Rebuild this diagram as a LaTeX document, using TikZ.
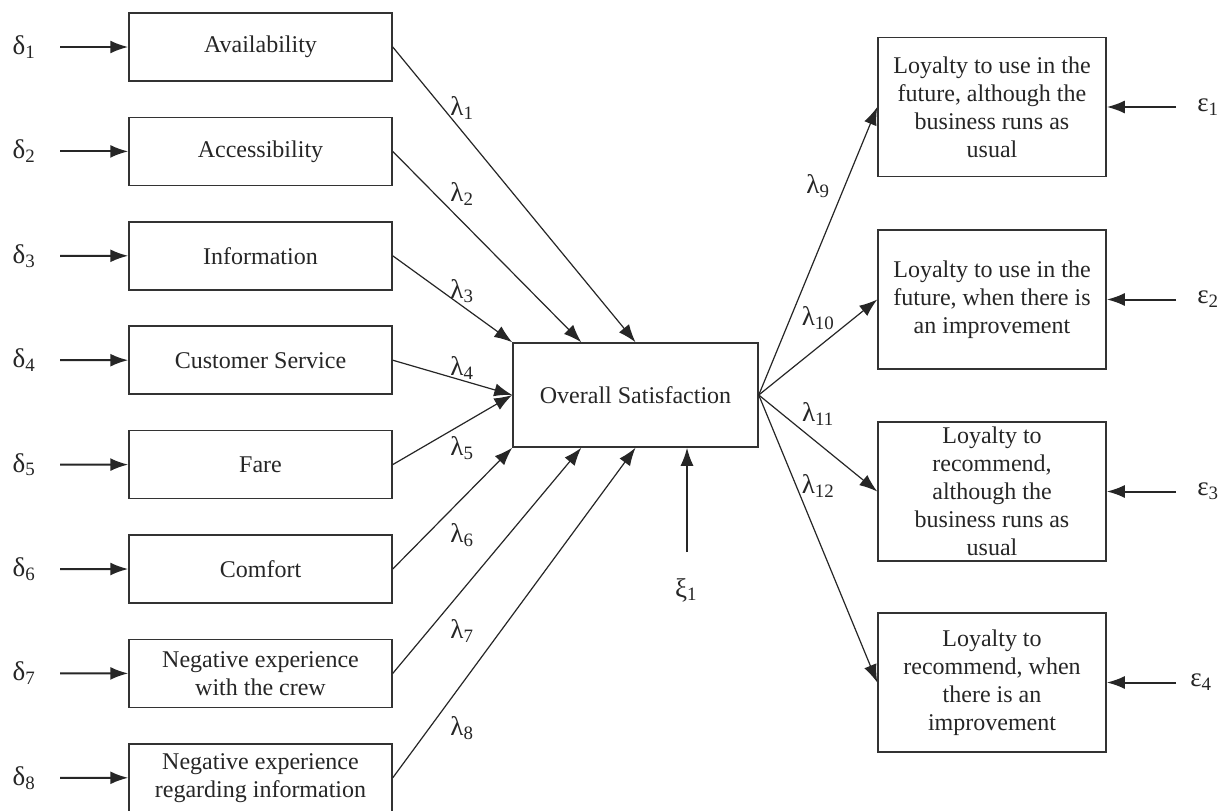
\documentclass[tikz,border=0pt]{standalone}
\usepackage{fontspec}
\setmainfont{Liberation Serif}
\usetikzlibrary{arrows.meta,calc}
\begin{document}
\begin{tikzpicture}[x=1pt,y=-1pt,
  every node/.style={text=black!85},
  lbox/.style={draw=black!80,line width=1.5pt,minimum width=263pt,minimum height=68pt,inner sep=0pt,align=center,font=\fontsize{24}{28}\selectfont},
  cbox/.style={lbox,minimum width=245pt,minimum height=104pt},
  rbox/.style={lbox,minimum width=228pt,minimum height=139pt},
  greek/.style={font=\fontsize{27}{30}\selectfont,inner sep=0pt},
  errarrow/.style={draw=black!85,line width=2pt,-{Latex[length=18pt,width=13pt]}},
  lamarrow/.style={draw=black!85,line width=1.2pt,-{Latex[length=18pt,width=13pt]}},
  xiarrow/.style={draw=black!85,line width=1.6pt,-{Latex[length=18pt,width=13pt]}},
]
\useasboundingbox[fill=white] (0,0) rectangle (1226,811);

% left boxes
\node[lbox] (a1) at (260.5,47) {Availability};
\node[lbox] (a2) at (260.5,151.4) {Accessibility};
\node[lbox] (a3) at (260.5,255.8) {Information};
\node[lbox] (a4) at (260.5,360.2) {Customer Service};
\node[lbox] (a5) at (260.5,464.6) {Fare};
\node[lbox] (a6) at (260.5,569) {Comfort};
\node[lbox] (a7) at (260.5,673.4) {Negative experience\\with the crew};
\node[lbox] (a8) at (260.5,777.8) {Negative experience\\regarding information};

% centre box
\node[cbox] (sat) at (635.5,395) {Overall Satisfaction};

% right boxes
\node[rbox] (r1) at (992,107) {Loyalty to use in the\\future, although the\\business runs as\\usual};
\node[rbox] (r2) at (992,299.5) {Loyalty to use in the\\future, when there is\\an improvement};
\node[rbox] (r3) at (992,491.5) {Loyalty to\\recommend,\\although the\\business runs as\\usual};
\node[rbox] (r4) at (992,682.5) {Loyalty to\\recommend, when\\there is an\\improvement};

% delta error terms
\foreach \i in {1,...,8} {
  \pgfmathsetmacro\yy{47+(\i-1)*104.4}
  \node[greek] (d\i) at (24,\yy) {δ\textsubscript{\i}};
  \coordinate (ds\i) at (60,\yy);
  \draw[errarrow] (ds\i) -- (a\i.west);
}

% epsilon error terms
\node[greek] (e1) at (1208,107) {ε\textsubscript{1}};
\node[greek] (e2) at (1208,299.5) {ε\textsubscript{2}};
\node[greek] (e3) at (1208,491.5) {ε\textsubscript{3}};
\node[greek] (e4) at (1201,682.5) {ε\textsubscript{4}};
\foreach \i in {1,...,4} {
  \coordinate (es\i) at (1176,0 |- r\i.east);
  \draw[errarrow] (es\i) -- (r\i.east);
}

% xi
\coordinate (xis) at (687,552);
\node[greek] (xi) at (686,590) {ξ\textsubscript{1}};
\draw[xiarrow] (xis) -- (xis |- sat.south);

% targets on centre box
\coordinate (t2) at ($(sat.north west)!0.28!(sat.north east)$);
\coordinate (b2) at ($(sat.south west)!0.28!(sat.south east)$);

\draw[lamarrow] (a1.east) -- (sat.north);
\draw[lamarrow] (a2.east) -- (t2);
\draw[lamarrow] (a3.east) -- (sat.north west);
\draw[lamarrow] (a4.east) -- (sat.west);
\draw[lamarrow] (a5.east) -- (sat.west);
\draw[lamarrow] (a6.east) -- (sat.south west);
\draw[lamarrow] (a7.east) -- (b2);
\draw[lamarrow] (a8.east) -- (sat.south);

\draw[lamarrow] (sat.east) -- (r1.west);
\draw[lamarrow] (sat.east) -- (r2.west);
\draw[lamarrow] (sat.east) -- (r3.west);
\draw[lamarrow] (sat.east) -- (r4.west);

% lambda labels
\node[greek] (l1) at (462,108) {λ\textsubscript{1}};
\node[greek] (l2) at (462,194) {λ\textsubscript{2}};
\node[greek] (l3) at (462,291) {λ\textsubscript{3}};
\node[greek] (l4) at (462,368) {λ\textsubscript{4}};
\node[greek] (l5) at (462,448) {λ\textsubscript{5}};
\node[greek] (l6) at (462,535) {λ\textsubscript{6}};
\node[greek] (l7) at (462,631) {λ\textsubscript{7}};
\node[greek] (l8) at (462,728) {λ\textsubscript{8}};
\node[greek] (l9) at (818,186) {λ\textsubscript{9}};
\node[greek] (l10) at (818,318) {λ\textsubscript{10}};
\node[greek] (l11) at (818,414) {λ\textsubscript{11}};
\node[greek] (l12) at (818,486) {λ\textsubscript{12}};
\end{tikzpicture}
\end{document}
